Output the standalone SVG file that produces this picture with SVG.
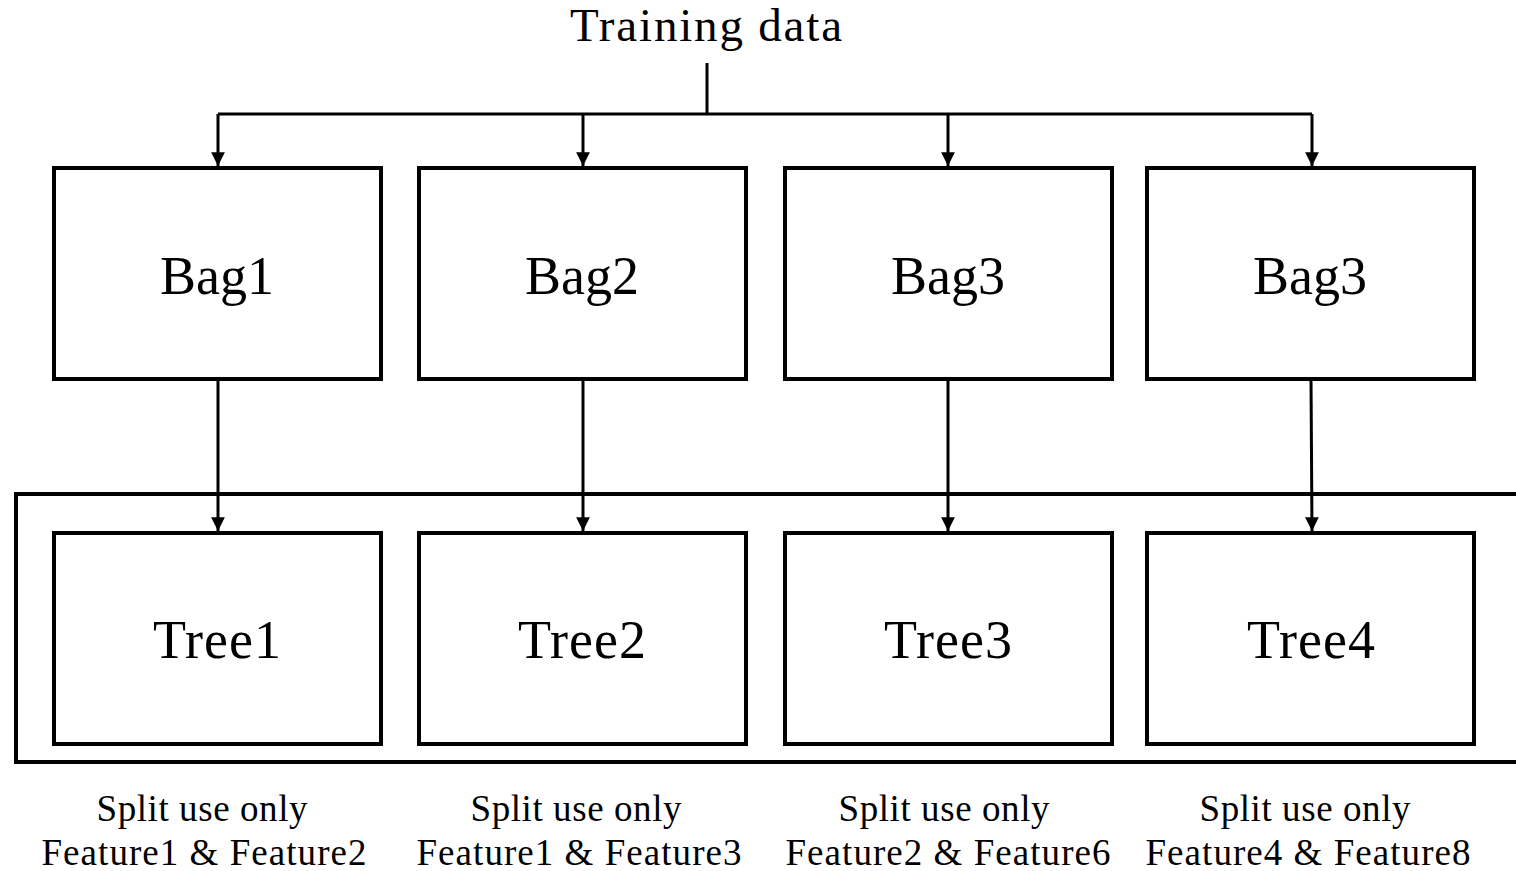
<svg xmlns="http://www.w3.org/2000/svg" width="1516" height="871" viewBox="0 0 1516 871">
  <style>
    .box { fill: #ffffff; stroke: #000000; stroke-width: 4; }
    .frame { fill: none; stroke: #000000; stroke-width: 4; }
    .wire { fill: none; stroke: #000000; stroke-width: 3; }
    .lbl { font-family: "Liberation Serif", "DejaVu Serif", serif; font-size: 54px; text-anchor: middle; fill: #000000; }
    .title { font-family: "Liberation Serif", "DejaVu Serif", serif; font-size: 47px; text-anchor: middle; fill: #000000; }
    .note { font-family: "Liberation Serif", "DejaVu Serif", serif; font-size: 37px; text-anchor: middle; fill: #000000; }
  </style>
  <defs>
    <marker id="arrow" viewBox="0 0 10 10" refX="10" refY="5" markerWidth="4.6" markerHeight="5.2" markerUnits="strokeWidth" orient="auto">
      <path d="M0,0 L10,5 L0,10 Z" fill="#000000"/>
    </marker>
  </defs>
  <rect width="1516" height="871" fill="#ffffff"/>

  <text class="title" x="706" y="41" textLength="272">Training data</text>

  <!-- ensemble frame around the trees, open on the right -->
  <path class="frame" d="M1520,494 L16,494 L16,762 L1520,762"/>

  <g id="connectors">
    <path class="wire" d="M707,63 L707,114"/>
    <path class="wire" d="M218,114 L1312,114"/>
    <path class="wire" d="M218,114 L218,166" marker-end="url(#arrow)"/>
    <path class="wire" d="M583,114 L583,166" marker-end="url(#arrow)"/>
    <path class="wire" d="M948,114 L948,166" marker-end="url(#arrow)"/>
    <path class="wire" d="M1312,114 L1312,166" marker-end="url(#arrow)"/>
    <path class="wire" d="M218,379 L218,531" marker-end="url(#arrow)"/>
    <path class="wire" d="M583,379 L583,531" marker-end="url(#arrow)"/>
    <path class="wire" d="M948,379 L948,531" marker-end="url(#arrow)"/>
    <path class="wire" d="M1311,379 L1312,531" marker-end="url(#arrow)"/>
  </g>

  <g id="bag1"><rect class="box" x="54" y="168" width="327" height="211"/><text class="lbl" x="217" y="294">Bag1</text></g>
  <g id="bag2"><rect class="box" x="419" y="168" width="327" height="211"/><text class="lbl" x="582" y="294">Bag2</text></g>
  <g id="bag3"><rect class="box" x="785" y="168" width="327" height="211"/><text class="lbl" x="948" y="294">Bag3</text></g>
  <g id="bag4"><rect class="box" x="1147" y="168" width="327" height="211"/><text class="lbl" x="1310" y="294">Bag3</text></g>

  <g id="tree1"><rect class="box" x="54" y="533" width="327" height="211"/><text class="lbl" x="217" y="658" textLength="128">Tree1</text></g>
  <g id="tree2"><rect class="box" x="419" y="533" width="327" height="211"/><text class="lbl" x="582" y="658" textLength="128">Tree2</text></g>
  <g id="tree3"><rect class="box" x="785" y="533" width="327" height="211"/><text class="lbl" x="948" y="658" textLength="128">Tree3</text></g>
  <g id="tree4"><rect class="box" x="1147" y="533" width="327" height="211"/><text class="lbl" x="1311" y="658" textLength="128">Tree4</text></g>

  <g id="notes">
    <text class="note" x="202" y="821" textLength="211">Split use only</text>
    <text class="note" x="204" y="865" textLength="325">Feature1 &amp; Feature2</text>
    <text class="note" x="576" y="821" textLength="211">Split use only</text>
    <text class="note" x="579" y="865" textLength="325">Feature1 &amp; Feature3</text>
    <text class="note" x="944" y="821" textLength="211">Split use only</text>
    <text class="note" x="948" y="865" textLength="325">Feature2 &amp; Feature6</text>
    <text class="note" x="1305" y="821" textLength="211">Split use only</text>
    <text class="note" x="1308" y="865" textLength="325">Feature4 &amp; Feature8</text>
  </g>
</svg>
